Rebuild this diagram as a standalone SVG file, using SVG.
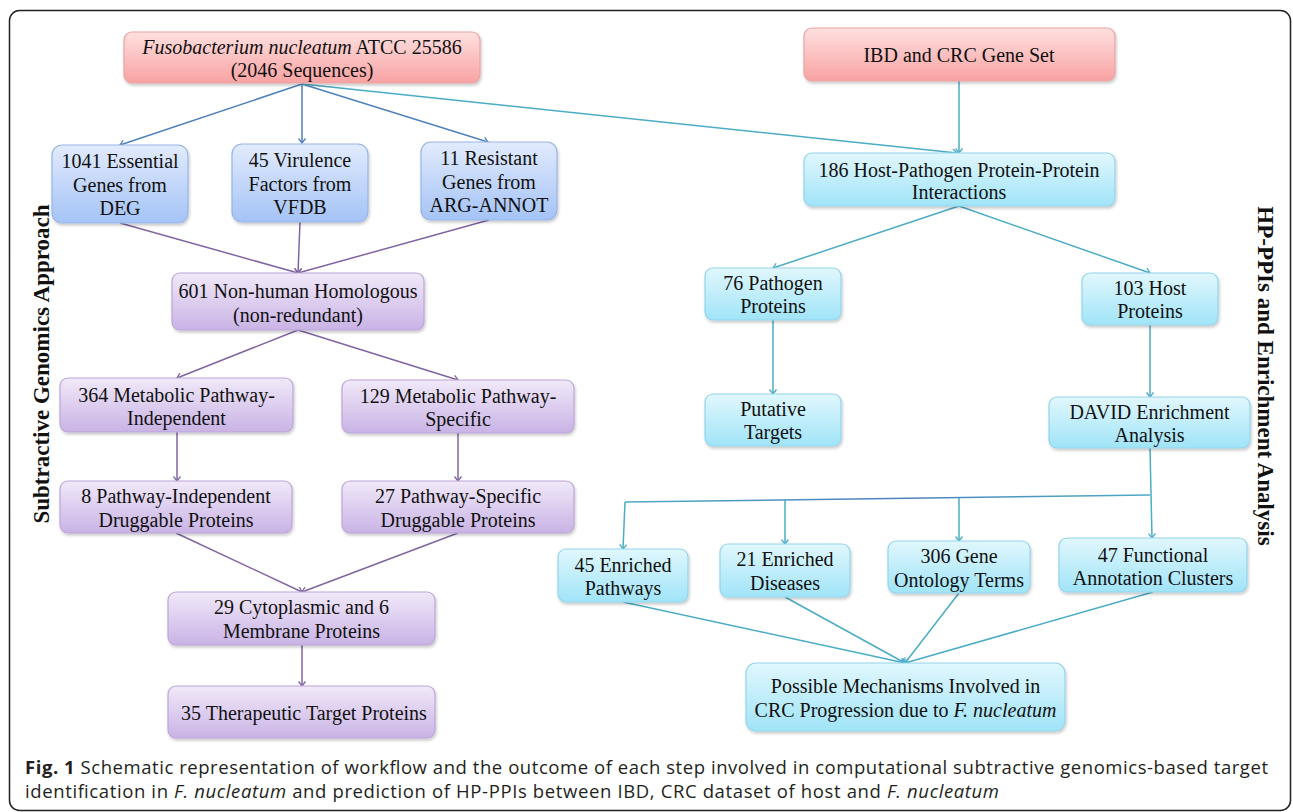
<svg xmlns="http://www.w3.org/2000/svg" width="1293" height="812" viewBox="0 0 1293 812">
<style>
.n{font-family:"Liberation Serif","Times New Roman",serif;font-size:20px;fill:#111;text-anchor:middle}
.i{font-style:italic}
.box{stroke-width:1.2}
.red{fill:url(#gRed);stroke:#e9a3a3}
.blue{fill:url(#gBlue);stroke:#97b5e6}
.pur{fill:url(#gPur);stroke:#bca6d8}
.cyan{fill:url(#gCyan);stroke:#93d5ea}
.side{font-family:"Liberation Serif","Times New Roman",serif;font-size:23px;font-weight:bold;fill:#111;text-anchor:middle}
.cap{font-family:"Open Sans","Liberation Sans",sans-serif;font-size:18.5px;fill:#231f20}
.cb{stroke:#4f81bd;stroke-width:1.5;fill:none;marker-end:url(#aB)}
.cp{stroke:#8064a2;stroke-width:1.5;fill:none;marker-end:url(#aP)}
.cc{stroke:#4bacc6;stroke-width:1.5;fill:none;marker-end:url(#aC)}
.cc0{stroke:#4bacc6;stroke-width:1.5;fill:none}
</style>
<defs>
<linearGradient id="gRed" x1="0" y1="0" x2="0" y2="1"><stop offset="0" stop-color="#ffe0e0"/><stop offset="1" stop-color="#f8a2a2"/></linearGradient>
<linearGradient id="gBlue" x1="0" y1="0" x2="0" y2="1"><stop offset="0" stop-color="#e2ebfd"/><stop offset="1" stop-color="#a4c3f6"/></linearGradient>
<linearGradient id="gPur" x1="0" y1="0" x2="0" y2="1"><stop offset="0" stop-color="#f1e9f9"/><stop offset="1" stop-color="#c9b3e5"/></linearGradient>
<linearGradient id="gCyan" x1="0" y1="0" x2="0" y2="1"><stop offset="0" stop-color="#e1f7fd"/><stop offset="1" stop-color="#a0e4f8"/></linearGradient>
<linearGradient id="gLine" x1="0" y1="0" x2="1" y2="0"><stop offset="0" stop-color="#4bacc6"/><stop offset="0.5" stop-color="#4f81bd"/><stop offset="1" stop-color="#4bacc6"/></linearGradient>
<filter id="sh" x="-10%" y="-10%" width="130%" height="140%"><feDropShadow dx="1" dy="2" stdDeviation="1.5" flood-color="#000" flood-opacity="0.22"/></filter>
<marker id="aB" viewBox="0 0 8 8" refX="7" refY="4" markerWidth="8" markerHeight="8" markerUnits="userSpaceOnUse" orient="auto"><path d="M2.5,0.5 L7,4 L2.5,7.5" fill="none" stroke="#4f81bd" stroke-width="1.3"/></marker>
<marker id="aP" viewBox="0 0 8 8" refX="7" refY="4" markerWidth="8" markerHeight="8" markerUnits="userSpaceOnUse" orient="auto"><path d="M2.5,0.5 L7,4 L2.5,7.5" fill="none" stroke="#8064a2" stroke-width="1.3"/></marker>
<marker id="aC" viewBox="0 0 8 8" refX="7" refY="4" markerWidth="8" markerHeight="8" markerUnits="userSpaceOnUse" orient="auto"><path d="M2.5,0.5 L7,4 L2.5,7.5" fill="none" stroke="#4bacc6" stroke-width="1.3"/></marker>
</defs>
<rect x="0" y="0" width="1293" height="812" fill="#fff"/>
<rect x="9.5" y="10.5" width="1281" height="800" rx="10" fill="none" stroke="#222" stroke-width="1.5"/>

<g id="connectors">
<path class="cb" d="M302,84 L120,145"/>
<path class="cb" d="M302,84 L302,143"/>
<path class="cb" d="M302,84 L488,142"/>
<path class="cc" d="M302,84 L957,153"/>
<path class="cc" d="M959,81 L959,153"/>
<path class="cp" d="M120,223 L298,273"/>
<path class="cp" d="M300,222 L298,273"/>
<path class="cp" d="M489,220 L298,273"/>
<path class="cp" d="M298,330 L177,378"/>
<path class="cp" d="M298,330 L458,380"/>
<path class="cp" d="M177,432 L177,481"/>
<path class="cp" d="M458,433 L458,481"/>
<path class="cp" d="M176,533 L302,592"/>
<path class="cp" d="M458,533 L302,592"/>
<path class="cp" d="M302,645 L302,686"/>
<path class="cc" d="M959,206 L773,268"/>
<path class="cc" d="M959,206 L1150,273"/>
<path class="cc" d="M773,320 L773,394"/>
<path class="cc" d="M1150,325 L1150,397"/>
<path class="cc" d="M1150,448 L1152,538"/>
<path d="M625,502 L1150,495" stroke="url(#gLine)" stroke-width="1.5" fill="none"/>
<path class="cc" d="M625,502 L623,549"/>
<path class="cc" d="M785,500 L785,544"/>
<path class="cc" d="M959,498 L959,541"/>
<path class="cc" d="M623,602 L905,663"/>
<path class="cc" d="M785,597 L905,663"/>
<path class="cc" d="M959,593 L905,663"/>
<path class="cc" d="M1153,592 L905,663"/>
</g>

<g id="n-fuso"><rect class="box red" filter="url(#sh)" x="124" y="32" width="356" height="51" rx="8"/>
<text class="n" x="302" y="54"><tspan class="i">Fusobacterium nucleatum</tspan> ATCC 25586</text>
<text class="n" x="302" y="77">(2046 Sequences)</text></g>

<g id="n-ibd"><rect class="box red" filter="url(#sh)" x="804" y="28" width="311" height="53" rx="8"/>
<text class="n" x="959" y="62">IBD and CRC Gene Set</text></g>

<g id="n-deg"><rect class="box blue" filter="url(#sh)" x="52" y="145" width="136" height="78" rx="10"/>
<text class="n" x="120" y="168">1041 Essential</text><text class="n" x="120" y="192">Genes from</text><text class="n" x="120" y="215">DEG</text></g>

<g id="n-vfdb"><rect class="box blue" filter="url(#sh)" x="232" y="144" width="136" height="78" rx="10"/>
<text class="n" x="300" y="167">45 Virulence</text><text class="n" x="300" y="191">Factors from</text><text class="n" x="300" y="214">VFDB</text></g>

<g id="n-arg"><rect class="box blue" filter="url(#sh)" x="421" y="142" width="136" height="78" rx="10"/>
<text class="n" x="489" y="165">11 Resistant</text><text class="n" x="489" y="189">Genes from</text><text class="n" x="489" y="212">ARG-ANNOT</text></g>

<g id="n-hpppi"><rect class="box cyan" filter="url(#sh)" x="804" y="153" width="311" height="53" rx="8"/>
<text class="n" x="959" y="177">186 Host-Pathogen Protein-Protein</text><text class="n" x="959" y="199">Interactions</text></g>

<g id="n-nonhuman"><rect class="box pur" filter="url(#sh)" x="172" y="273" width="252" height="57" rx="8"/>
<text class="n" x="298" y="298">601 Non-human Homologous</text><text class="n" x="298" y="322">(non-redundant)</text></g>

<g id="n-mpi"><rect class="box pur" filter="url(#sh)" x="60" y="378" width="233" height="54" rx="8"/>
<text class="n" x="176.5" y="402">364 Metabolic Pathway-</text><text class="n" x="176.5" y="425">Independent</text></g>

<g id="n-mps"><rect class="box pur" filter="url(#sh)" x="342" y="380" width="232" height="53" rx="8"/>
<text class="n" x="458" y="403">129 Metabolic Pathway-</text><text class="n" x="458" y="426">Specific</text></g>

<g id="n-pidp"><rect class="box pur" filter="url(#sh)" x="60" y="481" width="232" height="52" rx="8"/>
<text class="n" x="176" y="503">8 Pathway-Independent</text><text class="n" x="176" y="527">Druggable Proteins</text></g>

<g id="n-psdp"><rect class="box pur" filter="url(#sh)" x="342" y="481" width="232" height="52" rx="8"/>
<text class="n" x="458" y="503">27 Pathway-Specific</text><text class="n" x="458" y="527">Druggable Proteins</text></g>

<g id="n-cyto"><rect class="box pur" filter="url(#sh)" x="168" y="592" width="267" height="53" rx="8"/>
<text class="n" x="301.5" y="614">29 Cytoplasmic and 6</text><text class="n" x="301.5" y="638">Membrane Proteins</text></g>

<g id="n-ther"><rect class="box pur" filter="url(#sh)" x="168" y="686" width="267" height="52" rx="8"/>
<text class="n" x="304" y="720">35 Therapeutic Target Proteins</text></g>

<g id="n-pathogen"><rect class="box cyan" filter="url(#sh)" x="705" y="268" width="136" height="52" rx="8"/>
<text class="n" x="773" y="290">76 Pathogen</text><text class="n" x="773" y="313">Proteins</text></g>

<g id="n-host"><rect class="box cyan" filter="url(#sh)" x="1082" y="273" width="136" height="52" rx="8"/>
<text class="n" x="1150" y="295">103 Host</text><text class="n" x="1150" y="318">Proteins</text></g>

<g id="n-putative"><rect class="box cyan" filter="url(#sh)" x="705" y="394" width="136" height="52" rx="8"/>
<text class="n" x="773" y="416">Putative</text><text class="n" x="773" y="439">Targets</text></g>

<g id="n-david"><rect class="box cyan" filter="url(#sh)" x="1049" y="397" width="201" height="51" rx="8"/>
<text class="n" x="1149.5" y="419">DAVID Enrichment</text><text class="n" x="1149.5" y="442">Analysis</text></g>

<g id="n-pathways"><rect class="box cyan" filter="url(#sh)" x="558" y="549" width="130" height="53" rx="8"/>
<text class="n" x="623" y="572">45 Enriched</text><text class="n" x="623" y="595">Pathways</text></g>

<g id="n-diseases"><rect class="box cyan" filter="url(#sh)" x="720" y="544" width="130" height="53" rx="8"/>
<text class="n" x="785" y="566">21 Enriched</text><text class="n" x="785" y="590">Diseases</text></g>

<g id="n-ontology"><rect class="box cyan" filter="url(#sh)" x="888" y="541" width="142" height="52" rx="8"/>
<text class="n" x="959" y="563">306 Gene</text><text class="n" x="959" y="587">Ontology Terms</text></g>

<g id="n-clusters"><rect class="box cyan" filter="url(#sh)" x="1059" y="538" width="188" height="54" rx="8"/>
<text class="n" x="1153" y="562">47 Functional</text><text class="n" x="1153" y="585">Annotation Clusters</text></g>

<g id="n-mechanisms"><rect class="box cyan" filter="url(#sh)" x="746" y="663" width="319" height="68" rx="10"/>
<text class="n" x="905.5" y="693">Possible Mechanisms Involved in</text>
<text class="n" x="905.5" y="717">CRC Progression due to <tspan class="i">F. nucleatum</tspan></text></g>

<g id="labels">
<text class="side" transform="translate(49,364) rotate(-90)" x="0" y="0">Subtractive Genomics Approach</text>
<text class="side" transform="translate(1258,376) rotate(90)" x="0" y="0">HP-PPIs and Enrichment Analysis</text>
</g>

<g id="caption">
<text class="cap" x="25" y="774" textLength="1243" lengthAdjust="spacing"><tspan font-weight="bold">Fig. 1</tspan> Schematic representation of workflow and the outcome of each step involved in computational subtractive genomics-based target</text>
<text class="cap" x="25" y="798" textLength="974" lengthAdjust="spacing">identification in <tspan font-style="italic">F. nucleatum</tspan> and prediction of HP-PPIs between IBD, CRC dataset of host and <tspan font-style="italic">F. nucleatum</tspan></text>
</g>
</svg>
